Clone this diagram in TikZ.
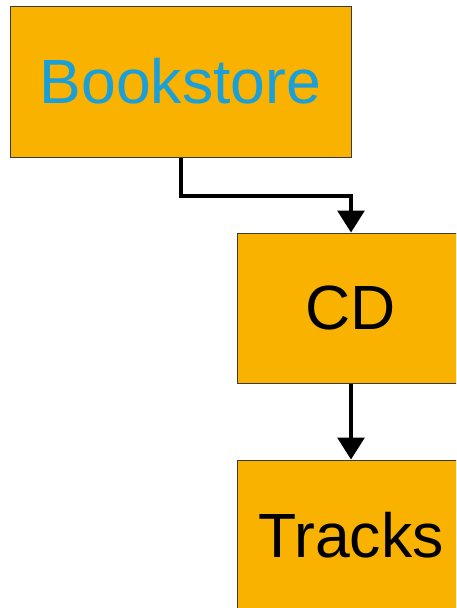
\documentclass[tikz,border=0pt]{standalone}
\usepackage{fontspec}
\setmainfont{Liberation Sans}
\usetikzlibrary{arrows.meta}
\definecolor{boxfill}{HTML}{F9B200}
\definecolor{boxline}{HTML}{3A3A3A}
\definecolor{bluetext}{HTML}{1A9FD8}
\begin{document}
\begin{tikzpicture}[x=1pt,y=-1pt,
  box/.style={draw=boxline, line width=1pt, fill=boxfill, inner sep=0pt, font=\fontsize{62.5}{62.5}\selectfont},
  conn/.style={line width=3.2pt, -{Triangle[width=27pt,length=22pt]}, line join=miter}]
\useasboundingbox (0,0) rectangle (456,608);
\clip (0,0) rectangle (456,608);
\node[box, minimum width=341pt, minimum height=151pt, text=bluetext] (book) at (180.5,81.5) {Bookstore};
\node[box, minimum width=227pt, minimum height=150pt] (cd) at (351,308) {CD};
\node[box, minimum width=227pt, minimum height=150pt] (tracks) at (351,535) {Tracks};
\coordinate (b1) at (181,196);
\draw[conn] (book.south -| b1) -- (b1) -- (b1 -| cd.north) -- (cd.north);
\draw[conn] (cd.south) -- (tracks.north);
\end{tikzpicture}
\end{document}
